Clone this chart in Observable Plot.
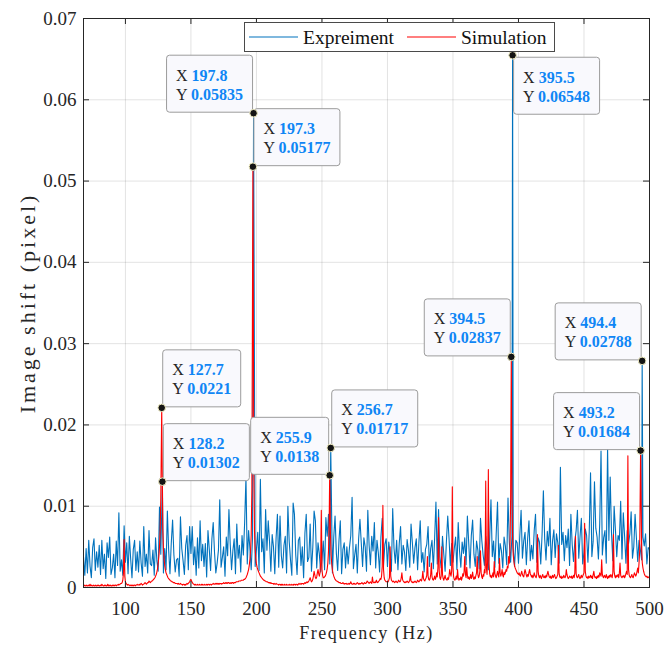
<!DOCTYPE html>
<html>
<head>
<meta charset="utf-8">
<script src="https://cdn.jsdelivr.net/npm/d3@7"></script>
<script src="https://cdn.jsdelivr.net/npm/@observablehq/plot@0.6"></script>
<style>
  body { margin: 0; background: #fff; }
  #chart svg { display: block; }
</style>
</head>
<body>
<div id="chart"></div>
<script>
// Measured spectrum: one sample per Hz from 68 Hz, values in units of 1e-4 pixel.
const experimentStart = 68;
const experimentStep = 1;
const experimentValues = [
  38, 15,
  48, 18, 58, 26, 12, 49, 60, 21, 44, 25,
  52, 16, 58, 23, 41, 11, 55, 37, 62, 16,
  24, 41, 12, 57, 27, 92, 20, 34, 15, 76,
  31, 55, 17, 63, 35, 12, 47, 58, 21, 44,
  19, 57, 30, 14, 75, 26, 41, 18, 70, 29,
  27, 46, 15, 61, 33, 20, 99, 41, 56, 18,
  48, 22, 94, 46, 17, 55, 83, 40, 19, 34,
  36, 14, 87, 48, 33, 16, 52, 64, 22, 75,
  42, 75, 28, 50, 15, 61, 24, 82, 33, 53,
  26, 54, 13, 70, 47, 21, 60, 80, 43, 18,
  30, 46, 108, 25, 37, 50, 14, 62, 39, 96,
  53, 22, 45, 60, 17, 78, 36, 52, 19, 64,
  40, 80, 135, 29, 70, 48, 22, 61, 52, 26,
  47, 68, 21, 133, 44, 60, 18, 96, 46, 82,
  56, 20, 65, 50, 17, 61, 90, 25, 88, 39,
  24, 52, 63, 18, 100, 57, 34, 15, 104, 90,
  40, 16, 58, 62, 27, 50, 12, 67, 90, 32,
  37, 78, 20, 49, 94, 82, 24, 55, 41, 19,
  34, 57, 22, 86, 63, 90, 29, 60, 18, 62,
  88, 42, 21, 58, 82, 17, 47, 55, 24, 50,
  29, 49, 64, 111, 23, 40, 53, 18, 60, 84,
  55, 26, 61, 50, 20, 95, 52, 28, 63, 45,
  80, 24, 58, 43, 19, 62, 85, 27, 53, 60,
  26, 56, 42, 20, 97, 48, 30, 58, 22, 54,
  75, 29, 52, 44, 21, 59, 46, 25, 78, 55,
  30, 49, 60, 22, 56, 82, 31, 43, 19, 47,
  53, 75, 26, 48, 58, 23, 61, 105, 29, 96,
  38, 24, 63, 41, 20, 57, 88, 60, 27, 54,
  31, 48, 62, 22, 80, 45, 25, 56, 42, 61,
  28, 88, 55, 24, 64, 83, 41, 26, 57, 46,
  23, 85, 58, 40, 27, 63, 48, 22, 61, 108,
  38, 57, 25, 66, 105, 30, 54, 45, 24, 62,
  51, 28, 110, 56, 31, 63, 47, 26, 58, 55,
  30, 64, 95, 36, 57, 68, 28, 60, 82, 33,
  52, 35, 70, 90, 31, 61, 56, 29, 65, 119,
  60, 34, 69, 51, 85, 28, 57, 71, 37, 66,
  55, 30, 148, 53, 68, 33, 64, 49, 72, 27,
  90, 53, 32, 57, 70, 95, 36, 63, 85, 29,
  43, 72, 64, 31, 68, 141, 38, 57, 130, 73,
  62, 35, 78, 168, 40, 61, 70, 30, 172, 58,
  136, 67, 33, 100, 71, 38, 64, 58, 106, 35,
  92, 63, 30, 70, 54, 66, 93, 36, 50, 90,
  61, 32, 58, 47, 34, 62, 51, 66, 29, 49,
  47
];

// Simulated spectrum: one sample every 0.5 Hz from 68 Hz, values in units of 1e-4 pixel.
const simulationStart = 68;
const simulationStep = 0.5;
const simulationValues = [
  3, 2, 3, 2,
  2, 3, 2, 2, 3, 2, 4, 2, 3, 2, 2, 3, 2, 2, 3, 2, 2, 3, 2, 3,
  2, 2, 3, 2, 4, 3, 2, 2, 3, 2, 3, 2, 2, 4, 2, 3, 2, 3, 2, 2,
  3, 2, 3, 2, 3, 3, 2, 3, 3, 4, 3, 4, 4, 5, 5, 6, 9, 18, 59, 14,
  7, 5, 4, 3, 4, 3, 3, 2, 3, 3, 2, 3, 2, 3, 3, 2, 3, 3, 4, 3,
  3, 4, 3, 4, 5, 4, 3, 4, 4, 5, 6, 5, 4, 5, 6, 6, 8, 7, 6, 7,
  8, 8, 9, 10, 11, 12, 14, 16, 19, 23, 30, 38, 50, 70, 110, 200, 120, 72, 48, 35,
  27, 22, 18, 16, 14, 12, 11, 10, 9, 8, 8, 7, 7, 6, 6, 6, 5, 5, 5, 5,
  4, 5, 4, 4, 5, 4, 4, 3, 4, 4, 3, 4, 3, 4, 5, 4, 5, 6, 7, 9,
  10, 8, 6, 5, 4, 4, 3, 4, 3, 3, 4, 3, 3, 4, 3, 3, 4, 3, 4, 3,
  3, 4, 3, 3, 4, 3, 4, 4, 3, 4, 4, 3, 4, 4, 5, 4, 4, 5, 4, 5,
  4, 5, 4, 5, 4, 5, 5, 4, 5, 5, 6, 5, 5, 6, 5, 6, 5, 6, 6, 5,
  5, 6, 5, 6, 6, 5, 6, 6, 6, 7, 7, 7, 7, 8, 8, 8, 8, 9, 9, 9,
  9, 10, 10, 11, 12, 14, 16, 19, 22, 27, 34, 45, 65, 120, 300, 300, 140, 70, 48, 36,
  29, 25, 22, 20, 18, 16, 14, 13, 12, 11, 10, 9, 9, 8, 8, 7, 7, 7, 6, 6,
  6, 5, 6, 5, 5, 5, 4, 5, 4, 4, 5, 4, 4, 4, 3, 4, 4, 3, 4, 3,
  4, 3, 3, 4, 3, 3, 4, 3, 3, 3, 4, 3, 3, 4, 3, 3, 4, 3, 4, 4,
  3, 4, 4, 3, 4, 5, 4, 4, 5, 4, 5, 5, 4, 5, 6, 5, 6, 7, 6, 7,
  8, 10, 12, 9, 7, 8, 10, 14, 20, 16, 12, 11, 13, 18, 22, 17, 14, 18, 30, 95,
  22, 15, 12, 12, 13, 14, 16, 19, 23, 30, 45, 80, 130, 65, 40, 28, 21, 17, 14, 12,
  10, 9, 8, 8, 7, 7, 6, 6, 6, 5, 5, 5, 6, 5, 4, 5, 5, 4, 5, 4,
  4, 5, 4, 5, 7, 5, 4, 4, 5, 4, 5, 4, 4, 5, 6, 5, 4, 5, 4, 5,
  5, 6, 5, 4, 5, 6, 5, 5, 6, 8, 7, 6, 5, 6, 7, 6, 5, 13, 7, 6,
  6, 7, 6, 9, 7, 6, 7, 8, 9, 11, 10, 14, 26, 101, 22, 12, 9, 8, 7, 7,
  8, 7, 9, 12, 50, 14, 9, 8, 7, 8, 7, 6, 7, 8, 7, 6, 7, 9, 8, 7,
  8, 12, 18, 10, 8, 7, 6, 7, 6, 7, 8, 7, 6, 7, 9, 14, 8, 7, 6, 7,
  6, 7, 8, 7, 6, 7, 9, 8, 7, 8, 10, 9, 8, 12, 20, 11, 9, 8, 10, 12,
  15, 38, 14, 10, 9, 11, 16, 30, 13, 10, 9, 11, 14, 10, 12, 18, 13, 24, 86, 20,
  12, 10, 14, 50, 16, 11, 9, 12, 15, 11, 10, 9, 12, 10, 14, 22, 17, 14, 20, 124,
  25, 13, 10, 9, 11, 14, 10, 22, 12, 9, 11, 10, 13, 9, 12, 17, 14, 20, 38, 16,
  12, 25, 15, 11, 13, 10, 12, 16, 11, 14, 19, 12, 10, 13, 11, 15, 18, 38, 16, 12,
  14, 20, 45, 18, 13, 11, 16, 14, 22, 18, 131, 24, 16, 35, 145, 30, 17, 13, 15, 12,
  14, 18, 13, 32, 17, 14, 12, 16, 20, 15, 13, 36, 18, 14, 17, 22, 15, 13, 19, 16,
  18, 22, 20, 26, 24, 38, 30, 45, 110, 280, 120, 60, 40, 32, 27, 24, 22, 20, 18, 17,
  16, 18, 15, 14, 17, 20, 16, 14, 13, 18, 22, 19, 15, 13, 16, 14, 19, 22, 17, 15,
  13, 15, 12, 14, 18, 15, 13, 12, 16, 65, 20, 14, 12, 15, 13, 11, 14, 16, 13, 12,
  14, 12, 15, 13, 17, 20, 16, 13, 12, 14, 11, 13, 15, 12, 14, 16, 13, 11, 12, 14,
  16, 52, 18, 13, 12, 14, 11, 13, 12, 15, 13, 12, 14, 22, 16, 13, 11, 12, 14, 13,
  12, 14, 11, 13, 15, 12, 18, 63, 17, 13, 12, 14, 16, 12, 11, 13, 15, 12, 14, 16,
  18, 79, 20, 14, 12, 13, 11, 14, 12, 13, 15, 12, 14, 11, 16, 20, 14, 12, 13, 11,
  14, 12, 15, 13, 18, 16, 14, 34, 16, 13, 12, 15, 14, 12, 16, 13, 11, 14, 12, 15,
  13, 16, 14, 12, 18, 65, 20, 14, 12, 15, 13, 14, 16, 12, 18, 30, 15, 13, 12, 14,
  13, 15, 12, 14, 17, 20, 16, 162, 22, 15, 13, 12, 14, 16, 13, 12, 15, 18, 16, 14,
  16, 20, 24, 18, 30, 45, 120, 110, 48, 30, 24, 20, 17, 15, 14, 13, 14, 12, 13, 12,
  12
];

// Resonance peaks marked with data tips (frequency in Hz, amplitude in pixel)
const experimentPeakFreq = [128.2, 197.8, 256.7, 395.5, 494.4];
const experimentPeakValue = [0.01302, 0.05835, 0.01717, 0.06548, 0.02788];
const simulationPeakFreq = [127.7, 197.3, 255.9, 394.5, 493.2];
const simulationPeakValue = [0.0221, 0.05177, 0.0138, 0.02837, 0.01684];

// Which side of its point each data tip box opens toward
const experimentTipSide = ["upper-right", "upper-left", "upper-right", "lower-right", "upper-left"];
const simulationTipSide = ["upper-right", "upper-right", "upper-left", "upper-left", "upper-left"];

const seriesNames = ["Expreiment", "Simulation"];
const seriesColors = ["#0072BD", "#FF0000"];

const xTicks = [100, 150, 200, 250, 300, 350, 400, 450, 500];
const yTicks = [0, 0.01, 0.02, 0.03, 0.04, 0.05, 0.06, 0.07];
const xLabel = "Frequency (Hz)";
const yLabel = "Image shift (pixel)";

// Merge the regular samples with the exact peak samples
function buildSeries(start, step, values, peakFreq, peakValue) {
  const rows = values
    .map((v, i) => ({f: start + i * step, v: v * 1e-4}))
    .filter(r => peakFreq.every(p => Math.abs(r.f - p) >= 0.35));
  peakFreq.forEach((p, i) => rows.push({f: p, v: peakValue[i]}));
  return rows.sort((a, b) => a.f - b.f);
}

const experiment = buildSeries(experimentStart, experimentStep, experimentValues, experimentPeakFreq, experimentPeakValue);
const simulation = buildSeries(simulationStart, simulationStep, simulationValues, simulationPeakFreq, simulationPeakValue);

const tips = [
  ...experimentPeakFreq.map((f, i) => ({f, v: experimentPeakValue[i], side: experimentTipSide[i]})),
  ...simulationPeakFreq.map((f, i) => ({f, v: simulationPeakValue[i], side: simulationTipSide[i]}))
];

const W = 665, H = 646;
const mL = 83, mR = 16, mT = 18, mB = 59;
const innerW = W - mL - mR, innerH = H - mT - mB;
const ink = "#262626";
const serif = "'Liberation Serif', 'Times New Roman', serif";

const chart = Plot.plot({
  width: W,
  height: H,
  marginLeft: mL,
  marginRight: mR,
  marginTop: mT,
  marginBottom: mB,
  style: {fontFamily: serif, fontSize: "19px", color: ink, background: "#fff", overflow: "visible"},
  x: {domain: [68, 500]},
  y: {domain: [0, 0.07]},
  marks: [
    Plot.gridX(xTicks, {stroke: ink, strokeOpacity: 0.13}),
    Plot.gridY(yTicks, {stroke: ink, strokeOpacity: 0.13}),
    Plot.line(experiment, {x: "f", y: "v", stroke: seriesColors[0], strokeWidth: 1.1}),
    Plot.line(simulation, {x: "f", y: "v", stroke: seriesColors[1], strokeWidth: 1.1}),
    // inward ticks on all four sides
    Plot.tickX(xTicks, {x: d => d, stroke: ink, insetTop: innerH - 6}),
    Plot.tickX(xTicks, {x: d => d, stroke: ink, insetBottom: innerH - 6}),
    Plot.tickY(yTicks, {y: d => d, stroke: ink, insetRight: innerW - 6}),
    Plot.tickY(yTicks, {y: d => d, stroke: ink, insetLeft: innerW - 6}),
    Plot.frame({stroke: ink, strokeWidth: 1}),
    Plot.axisX(xTicks, {tickSize: 0, tickPadding: 14, label: null, tickFormat: d => String(d), fill: ink}),
    Plot.axisY(yTicks, {tickSize: 0, tickPadding: 7, label: null, tickFormat: d => String(d), fill: ink}),
    Plot.text([xLabel], {frameAnchor: "bottom", dy: 46, text: d => d, fontSize: 18, fill: ink,
      lineAnchor: "middle", textAnchor: "middle", className: "axis-title-x"}),
    Plot.text([yLabel], {frameAnchor: "left", dx: -56, rotate: -90, text: d => d, fontSize: 22, fill: ink,
      lineAnchor: "middle", textAnchor: "middle", className: "axis-title-y"}),
    Plot.dot(tips, {x: "f", y: "v", r: 3.8, fill: "#141414", stroke: "#f3efc4", strokeWidth: 1})
  ]
});

document.getElementById("chart").appendChild(chart);

// axis titles are set with extra tracking
chart.querySelectorAll(".axis-title-x text").forEach(t => t.setAttribute("letter-spacing", "1.5"));
chart.querySelectorAll(".axis-title-y text").forEach(t => t.setAttribute("letter-spacing", "3"));

const svg = d3.select(chart);
const sx = chart.scale("x"), sy = chart.scale("y");

// Data tip boxes, placed beneath the point markers
const dotLayer = chart.querySelector('g[aria-label="dot"]');
const tipLayer = document.createElementNS("http://www.w3.org/2000/svg", "g");
chart.insertBefore(tipLayer, dotLayer);
const tipG = d3.select(tipLayer).attr("text-anchor", "start");

tips.forEach(t => {
  const px = sx.apply(t.f), py = sy.apply(t.v);
  const g = tipG.append("g");
  const rect = g.append("rect");
  const text = g.append("text").attr("font-family", serif).attr("font-size", 16).attr("text-anchor", "start");
  const l1 = text.append("tspan").attr("x", 0).attr("y", 26);
  l1.append("tspan").attr("fill", ink).text("X ");
  l1.append("tspan").attr("fill", "#0f86f5").attr("font-weight", "bold").text(String(t.f));
  const l2 = text.append("tspan").attr("x", 0).attr("y", 45);
  l2.append("tspan").attr("fill", ink).text("Y ");
  l2.append("tspan").attr("fill", "#0f86f5").attr("font-weight", "bold").text(String(t.v));
  const tw = text.node().getBBox().width;
  const bw = Math.round(tw + 19), bh = 57;
  let left, top;
  if (t.side === "upper-left") { left = px - 1 - bw; top = py - 1 - bh; }
  else if (t.side === "upper-right") { left = px + 1; top = py - 1 - bh; }
  else { left = px + 1; top = py + 2; }
  g.attr("transform", `translate(${left},${top})`);
  rect.attr("x", 0.5).attr("y", 0.5).attr("width", bw).attr("height", bh).attr("rx", 3)
    .attr("fill", "#f9f9fd").attr("stroke", "#9c9c9c").attr("stroke-width", 1);
  text.attr("transform", "translate(10,0)");
});

// Legend box in the upper part of the axes
const legend = svg.append("g").attr("font-family", serif).attr("font-size", 19.5)
  .attr("fill", "#111").attr("text-anchor", "start");
legend.append("rect").attr("x", 244.5).attr("y", 22.5).attr("width", 310).attr("height", 29)
  .attr("fill", "#fff").attr("stroke", "#4a4a4a").attr("stroke-width", 1);
const legendLineX = [249, 407];
seriesNames.forEach((name, i) => {
  legend.append("line").attr("x1", legendLineX[i]).attr("x2", legendLineX[i] + 49)
    .attr("y1", 37).attr("y2", 37).attr("stroke", seriesColors[i]).attr("stroke-width", 1.1);
  legend.append("text").attr("x", legendLineX[i] + 54).attr("y", 43.5).text(name);
});
</script>
</body>
</html>
